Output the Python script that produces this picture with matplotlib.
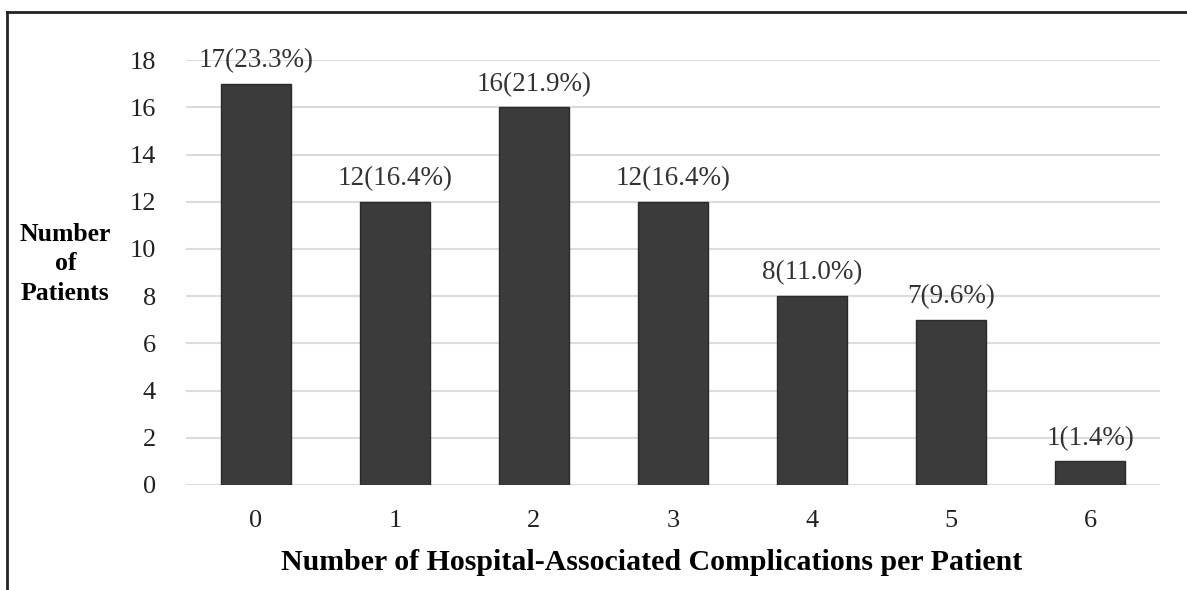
import matplotlib
matplotlib.use("Agg")
import matplotlib.pyplot as plt
from matplotlib.lines import Line2D

complications = [0, 1, 2, 3, 4, 5, 6]
patients = [17, 12, 16, 12, 8, 7, 1]
percent = [23.3, 16.4, 21.9, 16.4, 11.0, 9.6, 1.4]
yticks = [0, 2, 4, 6, 8, 10, 12, 14, 16, 18]

plt.rcParams['font.family'] = ['Liberation Serif', 'DejaVu Serif']

fig = plt.figure(figsize=(11.87, 5.9), dpi=100)
ax = fig.add_axes([0.157, 0.178, 0.82, 0.72])

ax.bar(complications, patients, width=0.5, color='#3b3b3b',
       edgecolor='#2a2a2a', linewidth=1, zorder=3)
for x, n, p in zip(complications, patients, percent):
    ax.text(x, n + 0.45, f"{n}({p:.1f}%)", ha='center', va='bottom',
            fontsize=19.5, color='#333333')

ax.set_xlim(-0.5, 6.5)
ax.set_ylim(0, 18)
ax.set_yticks(yticks)
ax.set_xticks(complications)
ax.tick_params(axis='both', length=0, labelsize=19, colors='#222222')
ax.tick_params(axis='y', pad=22)
ax.tick_params(axis='x', pad=18)
ax.grid(axis='y', color='#dcdcdc', linewidth=1.5, zorder=0)
for s in ax.spines.values():
    s.set_visible(False)

fig.text(0.549, 0.047, "Number of Hospital-Associated Complications per Patient",
         ha='center', va='center', fontsize=21.5, fontweight='bold')
fig.text(0.055, 0.553, "Number\nof\nPatients", ha='center', va='center',
         fontsize=18.5, fontweight='bold', linespacing=1.35)

# frame around the figure (top and left edges visible)
fig.add_artist(Line2D([0.006, 0.006], [0, 0.98], transform=fig.transFigure,
                      color='#222222', linewidth=2))
fig.add_artist(Line2D([0.006, 1.0], [0.98, 0.98], transform=fig.transFigure,
                      color='#222222', linewidth=2))

fig.savefig("out.png", dpi=100)
